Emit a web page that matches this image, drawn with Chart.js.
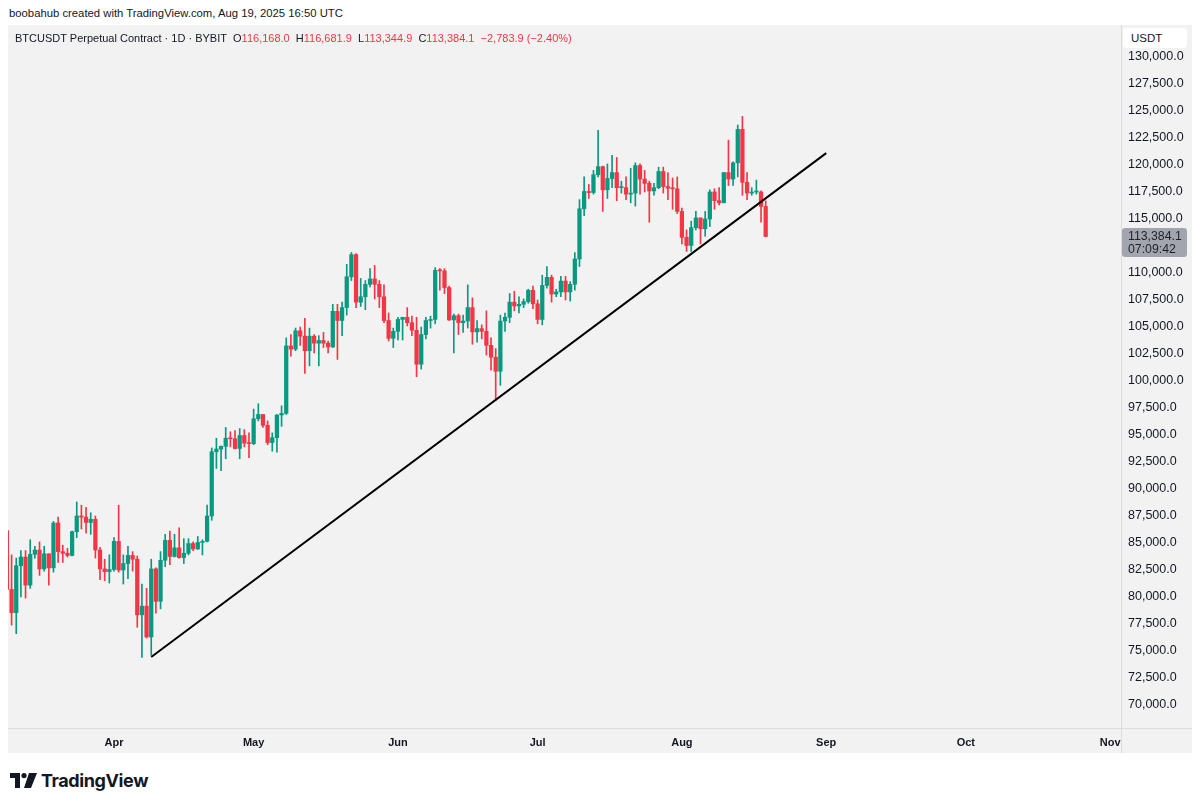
<!DOCTYPE html>
<html>
<head>
<meta charset="utf-8">
<script src="https://cdn.jsdelivr.net/npm/chart.js@4.4.1/dist/chart.umd.min.js"></script>
<style>
  body { margin: 0; width: 1200px; height: 806px; background: #fff; position: relative; overflow: hidden;
         font-family: "Liberation Sans", Arial, sans-serif; color: #131722; }
  #hdr { position: absolute; left: 9px; top: 7px; font-size: 11.3px; }
  #pane { position: absolute; left: 8px; top: 25px; width: 1184px; height: 728px; background: #f2f2f2; }
  #legend { position: absolute; left: 7px; top: 7px; font-size: 11px; white-space: nowrap; z-index: 2; }
  #legend .v { color: #f23645; }
  #usdt { position: absolute; left: 1115px; top: 3px; width: 64px; height: 20px; background: #fff; border-radius: 4px;
          font-size: 11.5px; line-height: 20px; padding-left: 8px; box-sizing: border-box; z-index: 2; }
  #vsep { position: absolute; left: 1113px; top: 0; width: 1px; height: 728px; background: #dcdcdc; z-index: 1; }
  #hsep { position: absolute; left: 0; top: 703px; width: 1184px; height: 1px; background: #dcdcdc; z-index: 1; }
  #logo { position: absolute; left: 10px; top: 770px; display: flex; align-items: center; }
  #logo span { font-family: Inter, "Noto Sans", sans-serif; font-size: 18px; font-weight: 700; letter-spacing: -0.4px; margin-left: 3px; }
  canvas { position: absolute; left: 0; top: 0; }
</style>
</head>
<body>
<div id="hdr">boobahub created with TradingView.com, Aug 19, 2025 16:50 UTC</div>
<div id="pane">
  <canvas id="chartContainer" width="1184" height="728"></canvas>
  <div id="legend">BTCUSDT Perpetual Contract · 1D · BYBIT&nbsp;&nbsp;O<span class="v">116,168.0</span>&nbsp;&nbsp;H<span class="v">116,681.9</span>&nbsp;&nbsp;L<span class="v">113,344.9</span>&nbsp;&nbsp;C<span class="v">113,384.1</span>&nbsp;&nbsp;<span class="v">−2,783.9 (−2.40%)</span></div>
  <div id="usdt">USDT</div>
  <div id="vsep"></div>
  <div id="hsep"></div>
</div>
<div id="logo">
  <svg width="28" height="16" viewBox="0 0 28 16">
    <path d="M0 0h10v15H5V5H0z" fill="#131722"/>
    <circle cx="14" cy="2.6" r="2.6" fill="#131722"/>
    <path d="M19 0h8l-6 15h-7z" fill="#131722"/>
  </svg>
  <span>TradingView</span>
</div>

<script>
// 日线数据：2025-03-09 起，每天一根
var startDate = '2025-03-09';
var opens = [
  86150,80700,78550,82900,83700,81100,83950,84350,82600,84000,82700,86850,84200,84050,83850,86050,87500,87400,86900,87200,84350,82600,82350,
  82550,85150,82500,83100,83850,83500,78350,79150,76300,82600,79600,83400,85250,83750,84550,83650,84050,84950,84450,85050,85150,87500,93450,93700,93950,94700,94650,93750,94950,94250,
  94200,96500,96900,95900,94300,94750,96850,97000,103250,102950,104650,104150,102800,104150,103500,103750,103500,103150,106450,105600,106800,109650,111700,107300,107800,108950,109450,108950,107800,105600,103950,
  104600,105700,105900,105400,104700,101550,104300,105600,105700,110250,110200,108650,105650,106050,105400,105550,106800,104550,104850,104600,103300,102200,100900,105550,105900,107300,106950,107100,107350,108400,
  107150,105700,108850,109600,108050,108250,109250,108250,108950,111300,115950,117550,117450,119100,119850,117700,118750,119300,117900,117900,117300,117400,119950,118700,118300,117600,117900,119400,118000,117850,117800,
  115700,113300,112550,114200,115100,114100,115000,117500,116700,116500,119300,118700,120200,123300,118400,117400,117500,117500,116168.0
];
var highs = [
  86500,83900,83600,84300,84300,85300,84700,85100,84700,84000,87000,87400,84800,84500,86100,88800,88500,88300,87800,87500,84600,83500,83900,
  85500,88500,83900,84700,84200,83800,81200,80800,83500,82700,84200,85800,86100,85800,86400,85400,85400,85100,85600,85300,88500,93800,94700,94000,95700,95300,95400,95600,95500,95200,
  97400,97900,96900,96300,95200,96900,97700,104000,104300,104900,105000,105800,104900,104300,104200,104500,103700,107100,107100,107300,110800,111900,111800,109500,109300,110400,110700,109300,108900,106300,104900,
  105900,105900,106800,106000,105900,105000,105900,106000,110500,110400,110400,108800,106200,106200,106100,108900,107700,105600,105200,106500,104000,103000,106100,106300,108100,108300,107800,107600,108500,108800,
  107500,109800,110600,109800,108500,109700,109700,109200,111900,116800,118900,118200,119500,123200,119900,120100,120900,120700,118500,118900,119700,120200,120100,119500,118500,118300,119800,119800,119300,118800,118900,
  116000,114000,114800,115700,115100,115700,117700,117800,117900,119300,122300,120300,123700,124500,119300,117900,118600,117600,116681.9
];
var lows = [
  80000,77400,76600,80000,79900,80800,83600,82000,82400,81100,82300,83200,83200,83700,83800,85500,86300,85900,85800,83600,81600,81500,81300,
  82400,82300,81200,81700,82400,77200,74400,76200,74600,78500,78900,82800,83000,83700,83600,83100,83900,84300,84400,83900,85100,87100,91900,91700,92800,93900,93700,92800,93900,92900,
  94100,96300,95700,94100,93500,93400,95800,96900,102300,102800,103300,100700,101400,102600,101400,103100,102600,103100,102000,104200,106100,109300,106800,106900,106600,108700,107600,106800,105400,103700,103100,
  103800,103800,105100,104200,100400,101100,103900,104900,105300,108400,108100,105600,102600,104300,104500,104900,103400,103600,103900,102400,101000,98200,99600,104600,105400,106500,106300,106800,107200,106700,
  105300,105200,108600,107300,107800,107800,107500,107400,108400,110600,115300,116900,117300,118900,115700,116900,117900,116700,117400,116800,116500,116200,117300,117500,114700,117200,117800,117400,116800,115900,115500,
  112700,112000,112000,114000,112700,113400,114300,115900,116300,116500,118100,118100,118900,117200,116800,117200,117300,114700,113344.9
];
var closes = [
  80700,78550,82900,83700,81100,83950,84350,82600,84000,82700,86850,84200,84050,83850,86050,87500,87400,86900,87200,84350,82600,82350,82550,
  85150,82500,83100,83850,83500,78350,79150,76300,82600,79600,83400,85250,83750,84550,83650,84050,84950,84450,85050,85150,87500,93450,93700,93950,94700,94650,93750,94950,94250,94200,
  96500,96900,95900,94300,94750,96850,97000,103250,102950,104650,104150,102800,104150,103500,103750,103500,103150,106450,105600,106800,109650,111700,107300,107800,108950,109450,108950,107800,105600,103950,104600,
  105700,105900,105400,104700,101550,104300,105600,105700,110250,110200,108650,105650,106050,105400,105550,106800,104550,104850,104600,103300,102200,100900,105550,105900,107300,106950,107100,107350,108400,107150,
  105700,108850,109600,108050,108250,109250,108250,108950,111300,115950,117550,117450,119100,119850,117700,118750,119300,117900,117900,117300,117400,119950,118700,118300,117600,117900,119400,118000,117850,117800,115700,
  113300,112550,114200,115100,114100,115000,117500,116700,116500,119300,118700,120200,123300,118400,117400,117500,117500,116168.0,113384.1
];
// 趋势线两端（日期，价格）
var trendDates = ['2025-04-09', '2025-09-01'];
var trendPrices = [74450, 121100];
// 刻度
var monthDates = ['2025-04-01','2025-05-01','2025-06-01','2025-07-01','2025-08-01','2025-09-01','2025-10-01','2025-11-01'];
var monthLabels = ['Apr','May','Jun','Jul','Aug','Sep','Oct','Nov'];
var priceTicks = [70000,72500,75000,77500,80000,82500,85000,87500,90000,92500,95000,97500,100000,
                  102500,105000,107500,110000,112500,115000,117500,120000,122500,125000,127500,130000];
var countdown = '07:09:42';

var upColor = '#089981';
var downColor = '#f23645';
var baseDay = Date.UTC(2025, 2, 1);
function toDay(s) {
  var p = s.split('-');
  return (Date.UTC(+p[0], +p[1] - 1, +p[2]) - baseDay) / 86400000;
}
var firstDay = toDay(startDate);
var candleColors = closes.map(function(c, i) { return c >= opens[i] ? upColor : downColor; });
var monthDays = monthDates.map(toDay);

var wickData = highs.map(function(h, i) { return { x: firstDay + i, y: [lows[i], h] }; });
var bodyData = opens.map(function(o, i) { return { x: firstDay + i, y: [Math.min(o, closes[i]), Math.max(o, closes[i])] }; });
var trendData = trendDates.map(function(d, i) { return { x: toDay(d), y: trendPrices[i] }; });

function fmt(v) {
  return v.toLocaleString('en-US', { minimumFractionDigits: 1, maximumFractionDigits: 1 });
}
function noPad(scale) {
  scale.paddingTop = 0; scale.paddingBottom = 0;
  scale.paddingLeft = 0; scale.paddingRight = 0;
}

// 最新价标签
var lastPricePlugin = {
  id: 'lastPrice',
  afterDraw: function(chart) {
    var ctx = chart.ctx;
    var last = closes[closes.length - 1];
    var y = chart.scales.y.getPixelForValue(last);
    var x0 = chart.scales.y.left + 1;
    ctx.save();
    ctx.fillStyle = '#a2a5ad';
    ctx.beginPath();
    ctx.roundRect(x0, y - 8.5, 65, 29, 3);
    ctx.fill();
    ctx.fillStyle = '#1e2129';
    ctx.font = '12.3px "Liberation Sans", Arial, sans-serif';
    ctx.textBaseline = 'middle';
    ctx.textAlign = 'left';
    ctx.fillText(fmt(last), x0 + 6, y);
    ctx.fillText(countdown, x0 + 6, y + 13);
    ctx.restore();
  }
};

var ctx = document.getElementById('chartContainer').getContext('2d');
var chart = new Chart(ctx, {
  type: 'bar',
  data: {
    datasets: [
      {
        type: 'line',
        data: trendData,
        borderColor: '#000000',
        borderWidth: 2,
        pointRadius: 0,
        fill: false
      },
      {
        data: bodyData,
        backgroundColor: candleColors,
        barThickness: 3.6,
        minBarLength: 1,
        grouped: false
      },
      {
        data: wickData,
        backgroundColor: candleColors,
        barThickness: 1,
        grouped: false
      }
    ]
  },
  options: {
    responsive: false,
    animation: false,
    devicePixelRatio: 1,
    layout: { padding: 0 },
    plugins: { legend: { display: false }, tooltip: { enabled: false } },
    scales: {
      x: {
        type: 'linear',
        offset: false,
        min: 8.23,
        max: 247.33,
        grid: { display: false, drawTicks: false },
        border: { display: false },
        afterFit: function(scale) { scale.height = 25; noPad(scale); },
        afterBuildTicks: function(scale) {
          scale.ticks = monthDays.map(function(d) { return { value: d }; });
        },
        ticks: {
          autoSkip: false,
          maxRotation: 0,
          padding: 8,
          color: '#131722',
          font: { size: 11, weight: 'bold', family: '"Liberation Sans", Arial, sans-serif' },
          callback: function(v) {
            var k = monthDays.indexOf(v);
            return k >= 0 ? monthLabels[k] : '';
          }
        }
      },
      y: {
        position: 'right',
        min: 67870,
        max: 132963,
        grid: { display: false, drawTicks: false },
        border: { display: false },
        afterFit: function(scale) { scale.width = 71; noPad(scale); },
        afterBuildTicks: function(scale) {
          scale.ticks = priceTicks.map(function(v) { return { value: v }; });
        },
        ticks: {
          padding: 7,
          color: '#131722',
          font: { size: 12.5, family: '"Liberation Sans", Arial, sans-serif' },
          callback: function(v) { return fmt(v); }
        }
      }
    }
  },
  plugins: [lastPricePlugin]
});
</script>
</body>
</html>
